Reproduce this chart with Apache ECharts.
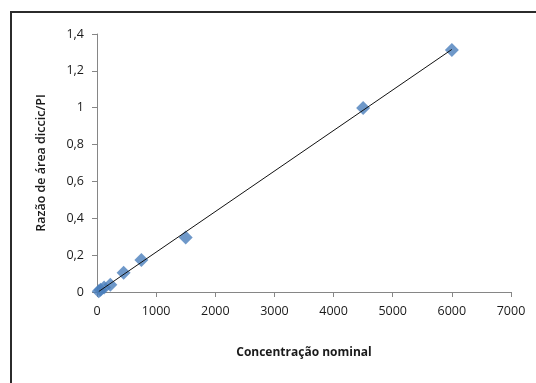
<!DOCTYPE html>
<html>
<head>
<meta charset="utf-8">
<script src="https://cdn.jsdelivr.net/npm/echarts@6/dist/echarts.min.js"></script>
<style>
  html, body { margin: 0; padding: 0; background: #fff; }
  #chart { width: 536px; height: 383px; }
</style>
</head>
<body>
<div id="chart"></div>
<script>
// concentração nominal vs razão de área
var concentracao = [30, 60, 120, 225, 450, 750, 1500, 4500, 6000];
var razaoArea = [0.004, 0.012, 0.025, 0.04, 0.105, 0.173, 0.296, 0.998, 1.313];
var xTicks = [0, 1000, 2000, 3000, 4000, 5000, 6000, 7000];
var yTicks = [0, 0.2, 0.4, 0.6, 0.8, 1, 1.2, 1.4];

// linha de tendência (mínimos quadrados)
var n = concentracao.length, sx = 0, sy = 0, sxx = 0, sxy = 0;
for (var i = 0; i < n; i++) {
    sx += concentracao[i]; sy += razaoArea[i];
    sxx += concentracao[i] * concentracao[i];
    sxy += concentracao[i] * razaoArea[i];
}
var slope = (n * sxy - sx * sy) / (n * sxx - sx * sx);
var intercept = (sy - slope * sx) / n;
var xMin = Math.min.apply(null, concentracao), xMax = Math.max.apply(null, concentracao);
var trend = [[xMin, intercept + slope * xMin], [xMax, intercept + slope * xMax]];

var pontos = concentracao.map(function (c, i) { return [c, razaoArea[i]]; });

var chart = echarts.init(document.getElementById('chart'));
var font = 'Open Sans, sans-serif';
chart.setOption({
    animation: false,
    graphic: [{
        type: 'rect',
        shape: { x: 11, y: 12, width: 600, height: 500 },
        style: { fill: 'none', stroke: '#2b2b2b', lineWidth: 2 },
        z: 100
    }],
    grid: { left: 97, right: 25, top: 34, bottom: 91 },
    xAxis: {
        type: 'value', min: xTicks[0], max: xTicks[xTicks.length - 1], interval: 1000,
        name: 'Concentração nominal', nameLocation: 'middle', nameGap: 55,
        nameTextStyle: { fontFamily: font, fontSize: 12, fontWeight: 'bold', color: '#1a1a1a' },
        axisLine: { lineStyle: { color: '#868686' } },
        axisTick: { show: true, length: 5, lineStyle: { color: '#868686' } },
        axisLabel: {
            fontFamily: font, fontSize: 12.5, color: '#1a1a1a', margin: 13,
            formatter: function (v) { return String(v); }
        },
        splitLine: { show: false }
    },
    yAxis: {
        type: 'value', min: yTicks[0], max: yTicks[yTicks.length - 1], interval: 0.2,
        name: 'Razão de área diccic/PI', nameLocation: 'middle', nameGap: 49,
        nameTextStyle: { fontFamily: font, fontSize: 12.5, fontWeight: 600, color: '#1a1a1a' },
        axisLine: { show: true, lineStyle: { color: '#868686' } },
        axisTick: { show: true, length: 5, lineStyle: { color: '#868686' } },
        axisLabel: {
            fontFamily: font, fontSize: 12.5, color: '#1a1a1a', margin: 13,
            formatter: function (v) { return String(Math.round(v * 10) / 10).replace('.', ','); }
        },
        splitLine: { show: false }
    },
    series: [{
        type: 'line',
        data: trend,
        symbol: 'none',
        lineStyle: { color: '#111', width: 1 },
        z: 3
    }, {
        type: 'scatter',
        data: pontos,
        symbol: 'diamond',
        symbolSize: 14,
        itemStyle: { color: '#4a7ebb' },
        z: 2
    }]
});
</script>
</body>
</html>
